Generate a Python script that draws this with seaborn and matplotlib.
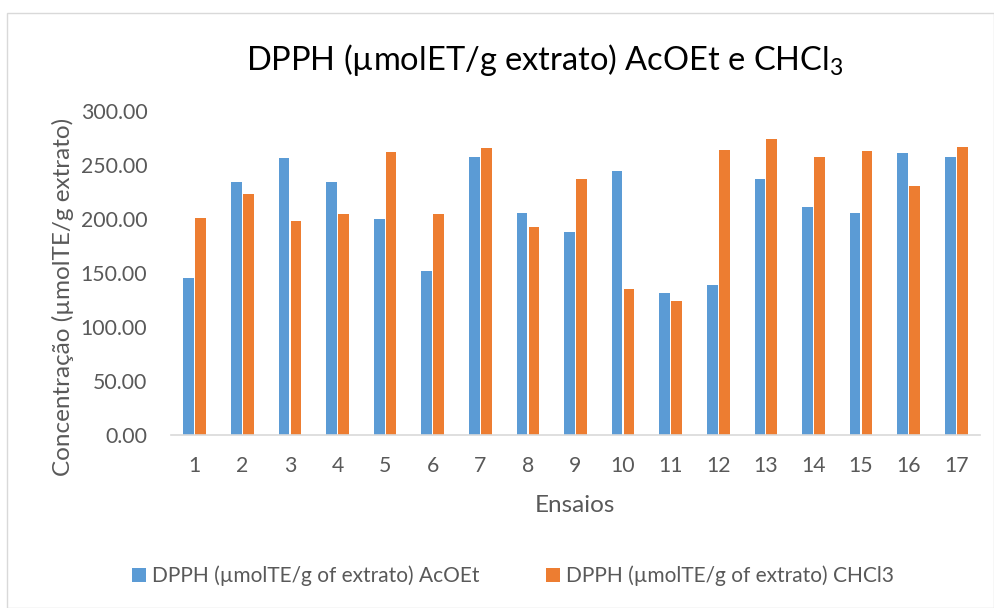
import matplotlib
matplotlib.use("Agg")
import matplotlib.pyplot as plt
from matplotlib.patches import Patch, Rectangle
import seaborn as sns
import pandas as pd

ensaios = [str(i) for i in range(1, 18)]
acoet = [145.1, 234.0, 256.2, 234.0, 200.0, 152.1, 257.7, 205.2, 188.3,
         244.2, 131.2, 138.9, 236.7, 210.8, 205.2, 260.8, 257.7]
chcl3 = [200.6, 223.1, 197.9, 204.6, 261.7, 204.6, 266.0, 192.6, 236.7,
         135.2, 123.8, 263.9, 273.8, 257.7, 263.3, 230.3, 266.4]
series = ["DPPH (µmolTE/g of extrato) AcOEt", "DPPH (µmolTE/g of extrato) CHCl3"]
yticks = [0, 50, 100, 150, 200, 250, 300]

df = pd.DataFrame({
    "Ensaio": ensaios * 2,
    "Serie": [series[0]] * len(ensaios) + [series[1]] * len(ensaios),
    "Valor": acoet + chcl3,
})

sns.set_theme(style="white")
plt.rcParams["font.family"] = ["Lato", "DejaVu Sans"]
plt.rcParams["mathtext.fontset"] = "custom"
plt.rcParams["mathtext.rm"] = "Lato"

W, H = 995, 608
txt = "#595959"
colors = ["#5B9BD5", "#ED7D31"]

fig = plt.figure(figsize=(W / 100, H / 100), dpi=100)
fig.patch.set_facecolor("white")
ax = fig.add_axes([171 / W, 1 - 435 / H, (980 - 171) / W, (435 - 111) / H])

sns.barplot(data=df, x="Ensaio", y="Valor", hue="Serie", order=ensaios,
            hue_order=series, palette=colors, saturation=1, width=0.5, gap=0.1,
            ax=ax, legend=False, edgecolor="none", linewidth=0)

ax.set_ylim(0, 300)
ax.set_xlim(-0.5, len(ensaios) - 0.5)
ax.set_yticks(yticks)
ax.set_yticklabels([f"{v:.2f}" for v in yticks], color=txt, fontsize=15.3)
ax.set_xticks(range(len(ensaios)))
ax.set_xticklabels(ensaios, color=txt, fontsize=15.3)
ax.tick_params(axis="both", length=0)
ax.tick_params(axis="x", pad=15)
ax.tick_params(axis="y", pad=17)
ax.set_xlabel("")
ax.set_ylabel("")
for s in ["top", "right", "left"]:
    ax.spines[s].set_visible(False)
ax.spines["bottom"].set_color("#D9D9D9")
ax.spines["bottom"].set_linewidth(1.2)
ax.grid(False)

fig.text(545 / W, 1 - 60 / H, r"DPPH (µmolET/g extrato) AcOEt e CHCl$\mathregular{_3}$",
         ha="center", va="center", fontsize=23.5, color="black")
fig.text(575 / W, 1 - 506 / H, "Ensaios", ha="center", va="center",
         fontsize=17.5, color=txt)
fig.text(63 / W, 1 - 297 / H, "Concentração (µmolTE/g extrato)", ha="center",
         va="center", rotation=90, fontsize=17.5, color=txt)

handles = [Patch(facecolor=c, edgecolor="none") for c in colors]
fig.legend(handles, series, loc="center", bbox_to_anchor=(513 / W, 1 - 576 / H),
           ncol=2, frameon=False, fontsize=15, handlelength=0.65,
           handleheight=0.65, handletextpad=0.3, columnspacing=3.2,
           labelcolor=txt)

fig.patches.append(Rectangle((7 / W, 0.5 / H), (W - 8) / W, (H - 13.5) / H,
                             transform=fig.transFigure, fill=False,
                             edgecolor="#D9D9D9", linewidth=1))

fig.savefig("out.png", dpi=100)
